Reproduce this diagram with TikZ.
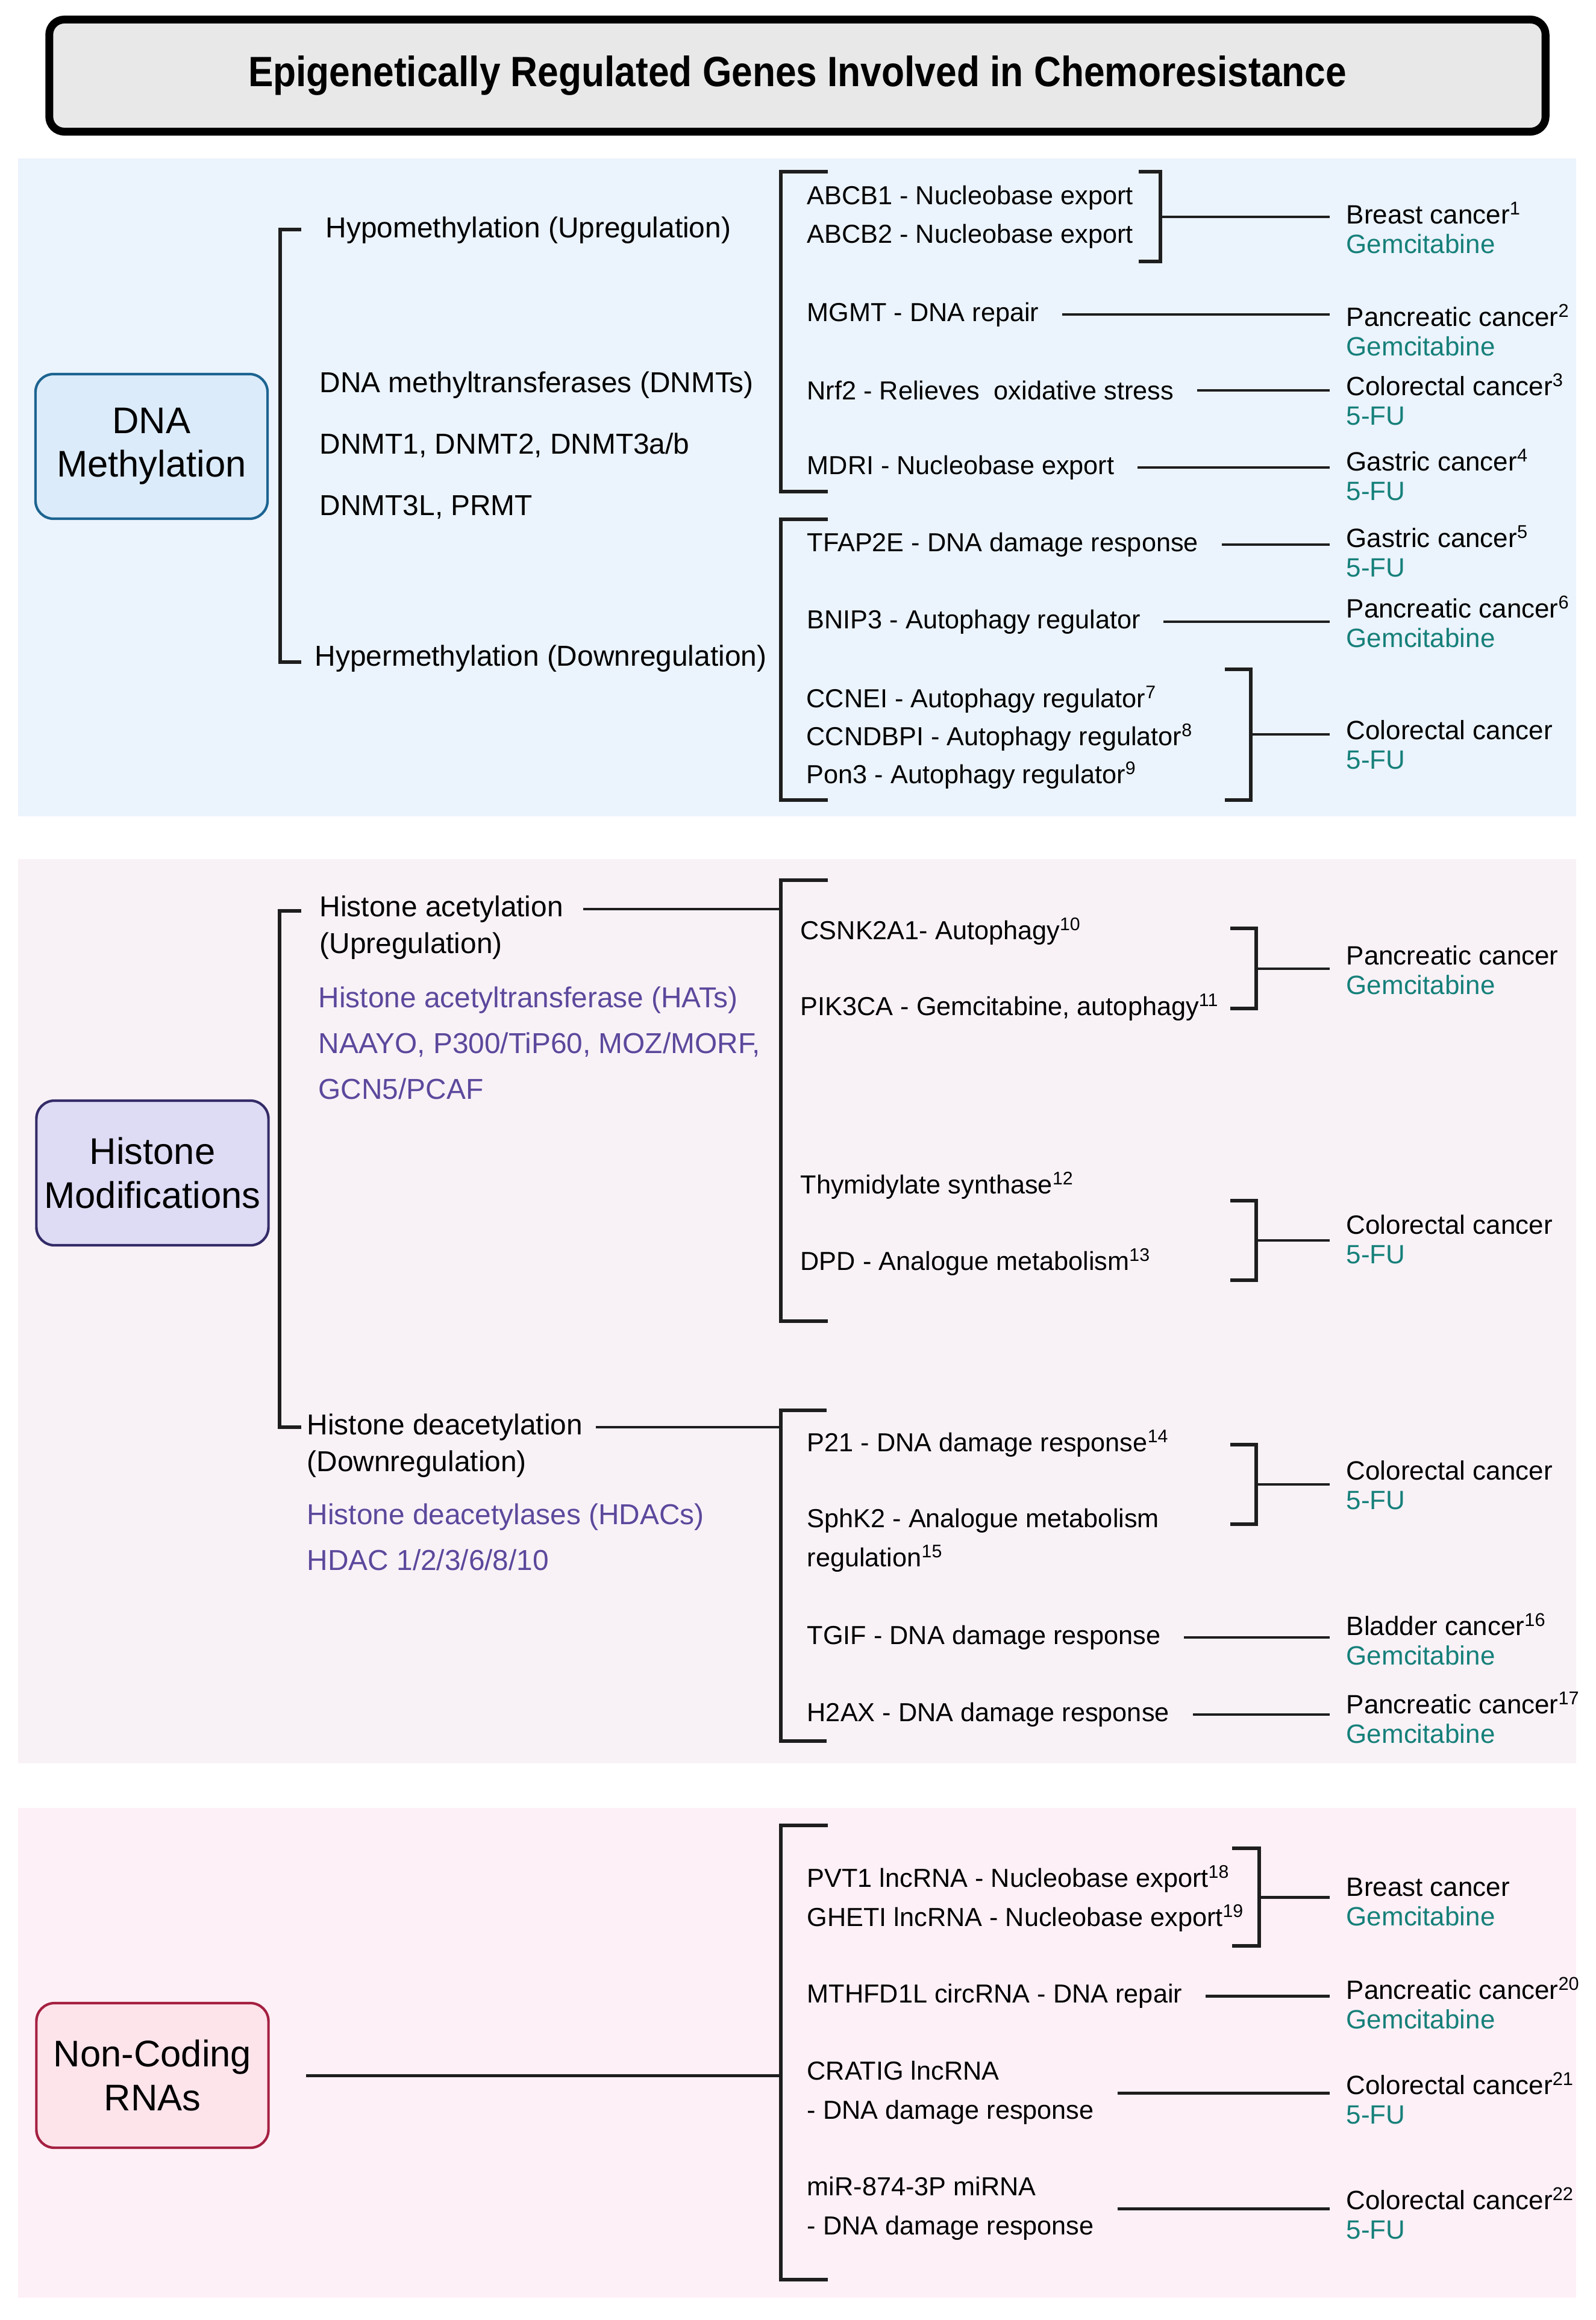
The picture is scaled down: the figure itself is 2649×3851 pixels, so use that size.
\documentclass[tikz,border=0pt]{standalone}
\usepackage{graphicx}
\usepackage{fontspec}
\setmainfont{Liberation Sans}
\usetikzlibrary{positioning, calc}
\definecolor{linec}{RGB}{30,30,30}
\definecolor{titlebg}{RGB}{232,232,232}
\definecolor{dnabg}{RGB}{235,243,252}
\definecolor{hisbg}{RGB}{248,242,247}
\definecolor{rnabg}{RGB}{253,240,246}
\definecolor{dnafill}{RGB}{220,235,250}
\definecolor{dnaedge}{RGB}{28,100,145}
\definecolor{hisfill}{RGB}{222,220,245}
\definecolor{hisedge}{RGB}{52,44,104}
\definecolor{rnafill}{RGB}{253,228,235}
\definecolor{rnaedge}{RGB}{165,32,65}
\definecolor{drug}{RGB}{22,128,122}
\definecolor{enzyme}{RGB}{92,72,156}
\newcommand{\titlefont}{\fontsize{20pt}{24pt}\selectfont\bfseries}
\newcommand{\boxfont}{\fontsize{17.5pt}{20.5pt}\selectfont}
\newcommand{\lvlfont}{\fontsize{13.6pt}{17.5pt}\selectfont}
\newcommand{\genefont}{\fontsize{12.3pt}{18.5pt}\selectfont}
\newcommand{\cancfont}{\fontsize{12.5pt}{14pt}\selectfont}

\begin{document}
\begin{tikzpicture}[x=0.01cm, y=-0.01cm,
  link/.style={draw=linec, line width=1.4pt},
  brk/.style={draw=linec, line width=1.7pt},
  secbox/.style={rounded corners=0.3cm, line width=1.2pt, minimum width=3.85cm, minimum height=2.4cm, align=center, font=\boxfont, inner sep=0pt},
  lvl/.style={anchor=west, align=left, font=\lvlfont, inner sep=0pt},
  enz/.style={anchor=west, align=left, text=enzyme, font=\fontsize{13.6pt}{21.6pt}\selectfont, inner sep=0pt},
  gene/.style={anchor=west, align=left, font=\genefont, inner xsep=0.38cm, inner ysep=0pt},
  canc/.style={anchor=west, align=left, font=\cancfont, inner xsep=0.27cm, inner ysep=0pt}]
  \useasboundingbox (0,0) rectangle (2649,3851);

  % title
  \node[draw=black, line width=3.7pt, fill=titlebg, rounded corners=0.25cm, minimum width=24.82cm, minimum height=1.86cm, font=\titlefont] (title) at (1323.5,125.5) {\scalebox{0.885}[1]{Epigenetically Regulated Genes Involved in Chemoresistance}};

  % panels
  \fill[dnabg] (30,263) rectangle (2616,1355);
  \fill[hisbg] (30,1426) rectangle (2616,2927);
  \fill[rnabg] (30,3001) rectangle (2616,3814);

  % DNA methylation
  \node[secbox, draw=dnaedge, fill=dnafill] (dna) at (251.5,741) {DNA\\Methylation};
  \draw[brk] (500,381) -- (465,381) -- (465,1099) -- (500,1099);
  \node[lvl] (hypo) at (540,382) {Hypomethylation (Upregulation)};
  \node[lvl, font=\fontsize{13.6pt}{29pt}\selectfont] (dnmt) at (530,739) {DNA methyltransferases (DNMTs)\\DNMT1, DNMT2, DNMT3a/b\\DNMT3L, PRMT};
  \node[lvl] (hyper) at (522,1093) {Hypermethylation (Downregulation)};
  \draw[brk] (1374,285) -- (1296,285) -- (1296,816) -- (1374,816);
  \draw[brk] (1374,862) -- (1296,862) -- (1296,1328) -- (1374,1328);

  \node[gene] (abcb1) at (1301,328) {ABCB1 - Nucleobase export};
  \node[gene] (abcb2) at (1301,392) {ABCB2 - Nucleobase export};
  \node[gene] (mgmt) at (1301,522) {MGMT - DNA repair};
  \node[gene] (nrf2) at (1301,648) {Nrf2 - Relieves\ \ oxidative stress};
  \node[gene] (mdr1) at (1301,776) {MDRI - Nucleobase export};
  \node[gene] (tfap) at (1301,904) {TFAP2E - DNA damage response};
  \node[gene] (bnip) at (1301,1032) {BNIP3 - Autophagy regulator};
  \node[gene] (ccne) at (1300,1161) {CCNEI - Autophagy regulator\textsuperscript{7}};
  \node[gene] (ccnd) at (1300,1224) {CCNDBPI - Autophagy regulator\textsuperscript{8}};
  \node[gene] (pon3) at (1300,1287) {Pon3 - Autophagy regulator\textsuperscript{9}};

  \node[canc] (canc1) at (2207,378) {Breast cancer\textsuperscript{1}\\\textcolor{drug}{Gemcitabine}};
  \node[canc] (canc2) at (2207,548) {Pancreatic cancer\textsuperscript{2}\\\textcolor{drug}{Gemcitabine}};
  \node[canc] (canc3) at (2207,663) {Colorectal cancer\textsuperscript{3}\\\textcolor{drug}{5-FU}};
  \node[canc] (canc4) at (2207,788) {Gastric cancer\textsuperscript{4}\\\textcolor{drug}{5-FU}};
  \node[canc] (canc5) at (2207,915) {Gastric cancer\textsuperscript{5}\\\textcolor{drug}{5-FU}};
  \node[canc] (canc6) at (2207,1032) {Pancreatic cancer\textsuperscript{6}\\\textcolor{drug}{Gemcitabine}};
  \node[canc] (canc7) at (2207,1236) {Colorectal cancer\\\textcolor{drug}{5-FU}};

  \draw[brk] (1890,285) -- (1926,285) -- (1926,434) -- (1890,434);
  \coordinate (abcb) at (1926,360);
  \draw[link] (abcb) -- (abcb -| canc1.west);
  \draw[link] (mgmt.east) -- (mgmt.east -| canc2.west);
  \draw[link] (nrf2.east) -- (nrf2.east -| canc3.west);
  \draw[link] (mdr1.east) -- (mdr1.east -| canc4.west);
  \draw[link] (tfap.east) -- (tfap.east -| canc5.west);
  \draw[link] (bnip.east) -- (bnip.east -| canc6.west);
  \draw[brk] (2033,1111) -- (2076,1111) -- (2076,1328) -- (2033,1328);
  \coordinate (ccn) at (2076,1219);
  \draw[link] (ccn) -- (ccn -| canc7.west);

  % Histone modifications
  \node[secbox, draw=hisedge, fill=hisfill] (hist) at (253,1947) {Histone\\Modifications};
  \draw[brk] (500,1512) -- (464,1512) -- (464,2369) -- (500,2369);
  \node[lvl] (hac) at (530,1509) {Histone acetylation};
  \node[lvl] (hacup) at (530,1570) {(Upregulation)};
  \node[enz] (hat) at (528,1731) {Histone acetyltransferase (HATs)\\NAAYO, P300/TiP60, MOZ/MORF,\\GCN5/PCAF};
  \node[lvl] (hdac) at (509,2369) {Histone deacetylation};
  \node[lvl] (hdacdn) at (509,2430) {(Downregulation)};
  \node[enz] (hdacs) at (509,2551) {Histone deacetylases (HDACs)\\HDAC 1/2/3/6/8/10};
  \draw[brk] (1374,1461) -- (1296,1461) -- (1296,2193) -- (1374,2193);
  \draw[brk] (1372,2341) -- (1296,2341) -- (1296,2890) -- (1372,2890);
  \coordinate (hacb) at (1296,1512);
  \coordinate (hdacb) at (1296,2369);
  \draw[link] ([xshift=0.32cm]hac.east) -- (hac.east -| hacb);
  \draw[link] ([xshift=0.21cm]hdac.east) -- (hdac.east -| hdacb);

  \node[gene] (csnk) at (1290,1546) {CSNK2A1- Autophagy\textsuperscript{10}};
  \node[gene] (pik3) at (1290,1672) {PIK3CA - Gemcitabine, autophagy\textsuperscript{11}};
  \node[gene] (tyms) at (1290,1968) {Thymidylate synthase\textsuperscript{12}};
  \node[gene] (dpd) at (1290,2095) {DPD - Analogue metabolism\textsuperscript{13}};
  \node[gene] (p21) at (1301,2396) {P21 - DNA damage response\textsuperscript{14}};
  \node[gene] (sphk) at (1301,2557) {SphK2 - Analogue metabolism\\regulation\textsuperscript{15}};
  \node[gene] (tgif) at (1301,2718) {TGIF - DNA damage response};
  \node[gene] (h2ax) at (1301,2846) {H2AX - DNA damage response};

  \node[canc] (canc8) at (2207,1610) {Pancreatic cancer\\\textcolor{drug}{Gemcitabine}};
  \node[canc] (canc9) at (2207,2057) {Colorectal cancer\\\textcolor{drug}{5-FU}};
  \node[canc] (canc10) at (2207,2465) {Colorectal cancer\\\textcolor{drug}{5-FU}};
  \node[canc] (canc11) at (2207,2721) {Bladder cancer\textsuperscript{16}\\\textcolor{drug}{Gemcitabine}};
  \node[canc] (canc12) at (2207,2851) {Pancreatic cancer\textsuperscript{17}\\\textcolor{drug}{Gemcitabine}};

  \draw[brk] (2042,1541) -- (2085,1541) -- (2085,1674) -- (2042,1674);
  \coordinate (panb) at (2085,1608);
  \draw[link] (panb) -- (panb -| canc8.west);
  \draw[brk] (2042,1993) -- (2085,1993) -- (2085,2125) -- (2042,2125);
  \coordinate (tsb) at (2085,2059);
  \draw[link] (tsb) -- (tsb -| canc9.west);
  \draw[brk] (2042,2398) -- (2085,2398) -- (2085,2530) -- (2042,2530);
  \coordinate (p21b) at (2085,2464);
  \draw[link] (p21b) -- (p21b -| canc10.west);
  \draw[link] (tgif.east) -- (tgif.east -| canc11.west);
  \draw[link] (h2ax.east) -- (h2ax.east -| canc12.west);

  % Non-coding RNAs
  \node[secbox, draw=rnaedge, fill=rnafill] (ncrna) at (253,3445) {Non-Coding\\RNAs};
  \draw[brk] (1374,3030) -- (1296,3030) -- (1296,3784) -- (1374,3784);
  \coordinate (rnab) at (1296,3445);
  \draw[link] ([xshift=0.6cm]ncrna.east) -- (rnab);

  \node[gene] (pvt1) at (1301,3119) {PVT1 lncRNA - Nucleobase export\textsuperscript{18}};
  \node[gene] (gheti) at (1301,3184) {GHETI lncRNA - Nucleobase export\textsuperscript{19}};
  \node[gene] (mthf) at (1301,3313) {MTHFD1L circRNA - DNA repair};
  \node[gene] (cratig) at (1301,3474) {CRATIG lncRNA\\- DNA damage response};
  \node[gene] (mir) at (1301,3666) {miR-874-3P miRNA\\- DNA damage response};

  \node[canc] (canc13) at (2207,3157) {Breast cancer\\\textcolor{drug}{Gemcitabine}};
  \node[canc] (canc14) at (2207,3325) {Pancreatic cancer\textsuperscript{20}\\\textcolor{drug}{Gemcitabine}};
  \node[canc] (canc15) at (2207,3483) {Colorectal cancer\textsuperscript{21}\\\textcolor{drug}{5-FU}};
  \node[canc] (canc16) at (2207,3674) {Colorectal cancer\textsuperscript{22}\\\textcolor{drug}{5-FU}};

  \draw[brk] (2045,3068) -- (2090,3068) -- (2090,3230) -- (2045,3230);
  \coordinate (pvtb) at (2090,3149);
  \draw[link] (pvtb) -- (pvtb -| canc13.west);
  \draw[link] (mthf.east) -- (mthf.east -| canc14.west);
  \draw[link] (cratig.east) -- (cratig.east -| canc15.west);
  \draw[link] (mir.east) -- (mir.east -| canc16.west);
\end{tikzpicture}
\end{document}
